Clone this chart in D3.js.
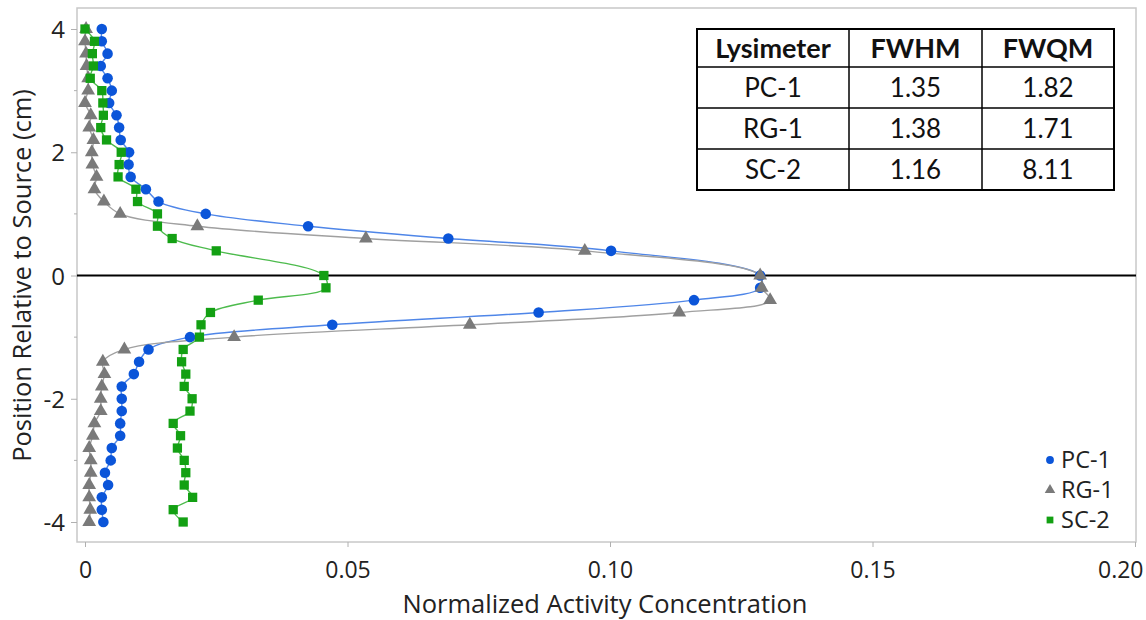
<!DOCTYPE html>
<html>
<head>
<meta charset="utf-8">
<script src="https://cdn.jsdelivr.net/npm/d3@7"></script>
<style>
  body { margin: 0; background: #fff; }
</style>
</head>
<body>
<div class="chart"></div>
<script>
// position of each sample relative to the source (cm)
var positions = [4.0, 3.8, 3.6, 3.4, 3.2, 3.0, 2.8, 2.6, 2.4, 2.2, 2.0, 1.8, 1.6, 1.4, 1.2, 1.0, 0.8, 0.6, 0.4,
    0, -0.2, -0.4, -0.6, -0.8, -1.0, -1.2, -1.4, -1.6, -1.8, -2.0, -2.2, -2.4, -2.6, -2.8, -3.0, -3.2, -3.4, -3.6, -3.8, -4.0];

var pc1 = [0.0032, 0.0032, 0.0043, 0.0030, 0.0043, 0.0051, 0.0046, 0.0060, 0.0065, 0.0068, 0.0084, 0.0083, 0.0087, 0.0116, 0.0140, 0.0230, 0.0425, 0.0692, 0.1002,
    0.1286, 0.1286, 0.1160, 0.0864, 0.0471, 0.0200, 0.0121, 0.0103, 0.0093, 0.0070, 0.0070, 0.0070, 0.0067, 0.0067, 0.0051, 0.0049, 0.0038, 0.0044, 0.0032, 0.0032, 0.0035];

var rg1 = [0.0002, 0.0000, 0.0002, 0.0003, 0.0006, 0.0006, 0.0000, 0.0011, 0.0008, 0.0016, 0.0013, 0.0014, 0.0022, 0.0018, 0.0036, 0.0067, 0.0214, 0.0535, 0.0952,
    0.1286, 0.1289, 0.1305, 0.1132, 0.0733, 0.0284, 0.0075, 0.0034, 0.0037, 0.0032, 0.0030, 0.0030, 0.0018, 0.0015, 0.0008, 0.0011, 0.0011, 0.0008, 0.0008, 0.0010, 0.0008];

var sc2 = [0.0000, 0.0018, 0.0014, 0.0016, 0.0010, 0.0032, 0.0034, 0.0035, 0.0030, 0.0041, 0.0069, 0.0065, 0.0063, 0.0097, 0.0100, 0.0138, 0.0138, 0.0166, 0.0250,
    0.0455, 0.0459, 0.0330, 0.0239, 0.0221, 0.0218, 0.0187, 0.0184, 0.0192, 0.0189, 0.0204, 0.0200, 0.0168, 0.0182, 0.0176, 0.0189, 0.0192, 0.0189, 0.0205, 0.0168, 0.0187];

var xTicks = [0, 0.05, 0.10, 0.15, 0.20];
var xTickLabels = ["0", "0.05", "0.10", "0.15", "0.20"];
var yTicks = [4, 2, 0, -2, -4];
var yTickLabels = ["4", "2", "0", "-2", "-4"];
var yMinorTicks = [3, 1, -1, -3];

var tableHeader = ["Lysimeter", "FWHM", "FWQM"];
var tableRows = [["PC-1", "1.35", "1.82"], ["RG-1", "1.38", "1.71"], ["SC-2", "1.16", "8.11"]];

var series = [
    { name: "PC-1", values: pc1, line: "#4f86e8", fill: "#0b55d9", symbol: d3.symbolCircle, size: 88, lsize: 48 },
    { name: "RG-1", values: rg1, line: "#a0a0a0", fill: "#7a7a7a", symbol: d3.symbolTriangle, size: 82, lsize: 48 },
    { name: "SC-2", values: sc2, line: "#4dbb4d", fill: "#13a013", symbol: d3.symbolSquare, size: 86, lsize: 46 }
];

var axisFont = "'Open Sans', sans-serif";
var tableFont = "Lato, 'Open Sans', sans-serif";

var svgWidth = 1146, svgHeight = 620;
var frame = { left: 77, right: 1136, top: 8, bottom: 542 };

var svg = d3.select(".chart").append("svg")
    .attr("width", svgWidth)
    .attr("height", svgHeight);

var xScale = d3.scaleLinear().domain([0, 0.2]).range([85, 1135]);
var yScale = d3.scaleLinear().domain([-4, 4]).range([522, 29]);

// plot frame
svg.append("rect")
    .attr("x", frame.left).attr("y", frame.top)
    .attr("width", frame.right - frame.left).attr("height", frame.bottom - frame.top)
    .attr("fill", "none").attr("stroke", "#c8c8c8").attr("stroke-width", 1.5);

// axes
var bottomAxis = d3.axisBottom(xScale).tickValues(xTicks).tickSize(5).tickPadding(15)
    .tickFormat(function (d, i) { return xTickLabels[i]; });
var gx = svg.append("g").attr("transform", "translate(0," + frame.bottom + ")").call(bottomAxis);
gx.select(".domain").remove();
gx.selectAll("line").attr("stroke", "#b0b0b0");
gx.selectAll("text")
    .style("font-family", axisFont).style("font-size", "23px").style("fill", "#222");
// last label is pulled in so it stays inside the page
gx.selectAll(".tick text").filter(function (d) { return d === 0.20; })
    .attr("text-anchor", "end").attr("x", 8);

var leftAxis = d3.axisLeft(yScale).tickValues(yTicks).tickSize(6).tickPadding(6)
    .tickFormat(function (d, i) { return yTickLabels[i]; });
var gy = svg.append("g").attr("transform", "translate(" + frame.left + ",0)").call(leftAxis);
gy.select(".domain").remove();
gy.selectAll("line").attr("stroke", "#b0b0b0");
gy.selectAll("text")
    .style("font-family", axisFont).style("font-size", "24px").style("fill", "#222").attr("dy", "0.36em");

svg.append("g").selectAll("line").data(yMinorTicks).enter().append("line")
    .attr("x1", frame.left - 3).attr("x2", frame.left)
    .attr("y1", function (d) { return yScale(d); }).attr("y2", function (d) { return yScale(d); })
    .attr("stroke", "#b0b0b0");

// zero reference line
svg.append("line")
    .attr("x1", frame.left).attr("x2", frame.right)
    .attr("y1", yScale(0)).attr("y2", yScale(0))
    .attr("stroke", "#000").attr("stroke-width", 2);

// axis titles
svg.append("text")
    .attr("x", 605).attr("y", 613)
    .attr("text-anchor", "middle")
    .style("font-family", axisFont).style("font-size", "25.5px").style("fill", "#222")
    .text("Normalized Activity Concentration");

svg.append("text")
    .attr("transform", "translate(31," + yScale(0) + ") rotate(-90)")
    .attr("text-anchor", "middle")
    .style("font-family", axisFont).style("font-size", "25.5px").style("fill", "#222")
    .text("Position Relative to Source (cm)");

// smoothed lines
var line = d3.line()
    .x(function (d) { return xScale(d[0]); })
    .y(function (d) { return yScale(d[1]); })
    .curve(d3.curveCatmullRom.alpha(0.5));

var plot = svg.append("g");

series.forEach(function (s) {
    var pts = s.values.map(function (v, i) { return [v, positions[i]]; });
    plot.append("path")
        .datum(pts)
        .attr("d", line)
        .attr("fill", "none")
        .attr("stroke", s.line)
        .attr("stroke-width", 1.4);
});

series.forEach(function (s) {
    var pts = s.values.map(function (v, i) { return [v, positions[i]]; });
    plot.append("g").selectAll("path")
        .data(pts)
        .enter()
        .append("path")
        .attr("d", d3.symbol().type(s.symbol).size(s.size))
        .attr("transform", function (d) { return "translate(" + xScale(d[0]) + "," + yScale(d[1]) + ")"; })
        .attr("fill", s.fill);
});

// legend
var legend = svg.append("g");
series.forEach(function (s, i) {
    var ly = 460 + i * 30;
    legend.append("path")
        .attr("d", d3.symbol().type(s.symbol).size(s.lsize))
        .attr("transform", "translate(1050," + ly + ")")
        .attr("fill", s.fill);
    legend.append("text")
        .attr("x", 1061).attr("y", ly)
        .attr("dy", "0.36em")
        .style("font-family", axisFont).style("font-size", "23.5px").style("fill", "#222")
        .text(s.name);
});

// FWHM / FWQM table
var colX = [697, 849, 982, 1114];
var rowY = [29, 67, 108, 149, 190];
var tbl = svg.append("g");

tbl.append("rect")
    .attr("x", colX[0]).attr("y", rowY[0])
    .attr("width", colX[3] - colX[0]).attr("height", rowY[4] - rowY[0])
    .attr("fill", "#fff").attr("stroke", "#000").attr("stroke-width", 2);

colX.slice(1, 3).forEach(function (cx) {
    tbl.append("line").attr("x1", cx).attr("x2", cx).attr("y1", rowY[0]).attr("y2", rowY[4])
        .attr("stroke", "#000").attr("stroke-width", 1.5);
});
rowY.slice(1, 4).forEach(function (ry) {
    tbl.append("line").attr("x1", colX[0]).attr("x2", colX[3]).attr("y1", ry).attr("y2", ry)
        .attr("stroke", "#000").attr("stroke-width", 1.5);
});

var allRows = [tableHeader].concat(tableRows);
allRows.forEach(function (row, r) {
    row.forEach(function (cell, c) {
        tbl.append("text")
            .attr("x", (colX[c] + colX[c + 1]) / 2)
            .attr("y", (rowY[r] + rowY[r + 1]) / 2)
            .attr("dy", "0.36em")
            .attr("text-anchor", "middle")
            .style("font-family", tableFont)
            .style("font-size", r === 0 ? "27px" : "26px")
            .style("font-weight", r === 0 ? "bold" : "normal")
            .style("fill", "#111")
            .text(cell);
    });
});
</script>
</body>
</html>
